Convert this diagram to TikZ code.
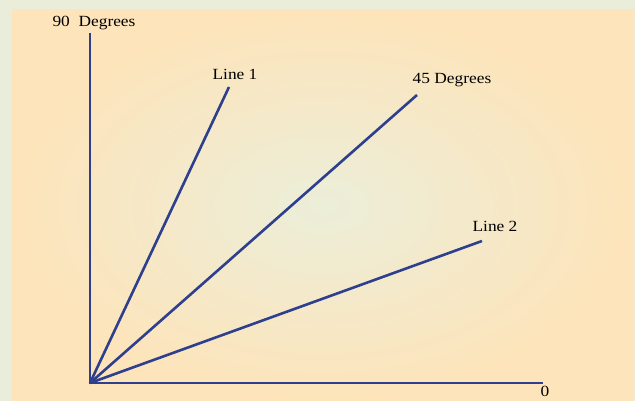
\documentclass[tikz,border=0pt]{standalone}
\usepackage{fontspec}
\setmainfont[FakeStretch=1.12]{Liberation Serif}
\definecolor{bordercol}{HTML}{E9EDDA}
\definecolor{centercol}{HTML}{ECEED9}
\definecolor{edgecol}{HTML}{FDE4BA}
\definecolor{linecol}{HTML}{2E3F8E}
\tikzset{
  ray/.style={draw=linecol, line width=2.6pt},
  lbl/.style={font=\fontsize{15.5}{18}\selectfont, text=black, inner sep=0pt}
}
\begin{document}
\begin{tikzpicture}[x=1pt,y=-1pt]
\fill[bordercol] (0,0) rectangle (635,401);
\useasboundingbox (0,0) rectangle (635,401);
\shade[inner color=centercol, outer color=edgecol] (12,10) rectangle (633,401);
\coordinate (o) at (90,383);
\coordinate (v) at (90,33);
\coordinate (h) at (543,383);
\coordinate (l1) at (229,87);
\coordinate (l45) at (417,95);
\coordinate (l2) at (482,241);
\draw[ray] (v) -- (o) -- (h);
\draw[ray] (o) -- (l1);
\draw[ray] (o) -- (l45);
\draw[ray] (o) -- (l2);
\node[lbl] (t90) at (94,23) {90\ \ Degrees};
\node[lbl] (t1) at (235,74) {Line 1};
\node[lbl] (t45) at (452,80) {45 Degrees};
\node[lbl] (t2) at (495,226) {Line 2};
\node[lbl] (t0) at (545,391) {0};
\end{tikzpicture}
\end{document}
